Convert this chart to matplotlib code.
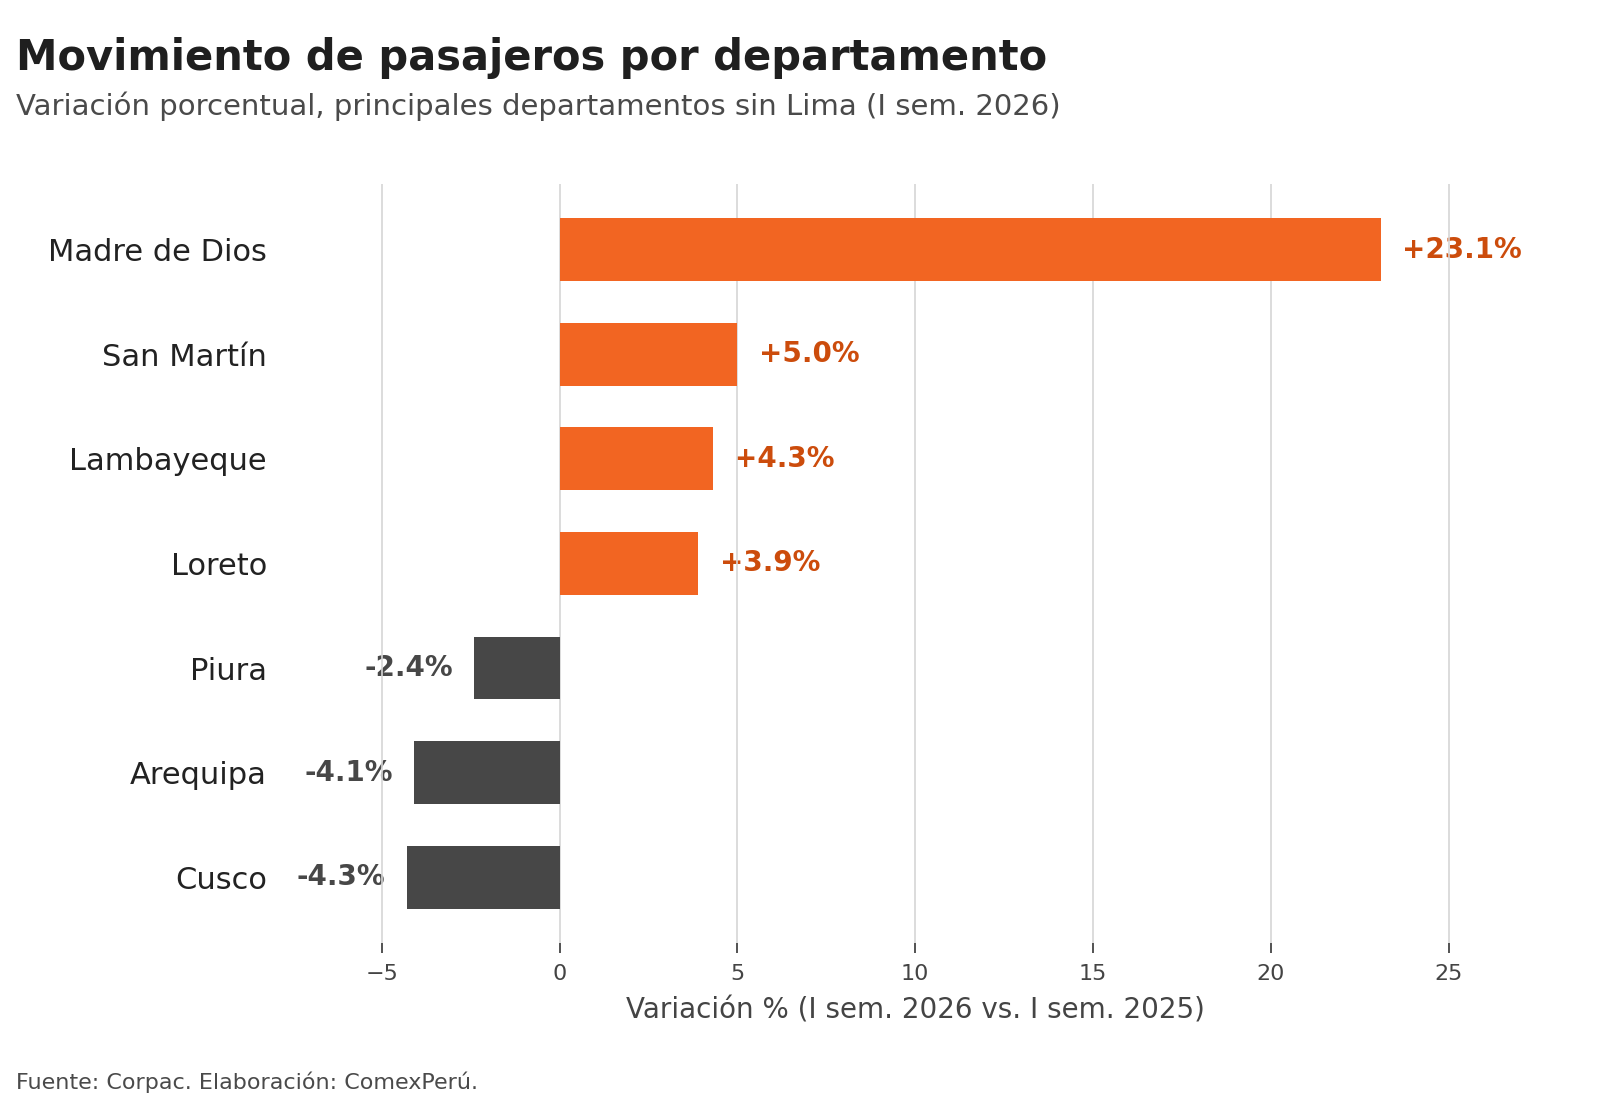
import matplotlib
matplotlib.use("Agg")
import matplotlib.pyplot as plt

departamentos = ["Madre de Dios", "San Martín", "Lambayeque", "Loreto", "Piura", "Arequipa", "Cusco"]
variacion = [23.1, 5.0, 4.3, 3.9, -2.4, -4.1, -4.3]

naranja = "#F26522"
naranja_txt = "#CC4C0C"
gris = "#474747"

plt.rcParams["font.family"] = ["DejaVu Sans"]

fig = plt.figure(figsize=(16, 11), dpi=100)
ax = fig.add_axes([0.172, 0.1425, 0.800, 0.6905])

colores = [naranja if v >= 0 else gris for v in variacion]
pos = list(range(len(departamentos)))
ax.barh(pos, variacion, height=0.6, color=colores, zorder=3)
ax.invert_yaxis()

# etiquetas de valor (quedan bajo la rejilla, como en el original)
for y, v in zip(pos, variacion):
    if v >= 0:
        ax.text(v + 0.6, y, f"+{v:.1f}%", va="center", ha="left",
                fontsize=20, fontweight="bold", color=naranja_txt, zorder=0.4)
    else:
        ax.text(v - 0.6, y, f"{v:.1f}%", va="center", ha="right",
                fontsize=20, fontweight="bold", color=gris, zorder=0.4)

ax.set_xlim(-8, 28)
ax.set_xticks([-5, 0, 5, 10, 15, 20, 25])
ax.set_yticks(pos)
ax.set_yticklabels(departamentos, fontsize=22, color="#222222")
ax.tick_params(axis="y", length=0, pad=6)
ax.tick_params(axis="x", length=7, width=1.3, color="#444444", labelsize=16,
               labelcolor="#444444", pad=8)
ax.grid(axis="x", color="#d6d6d6", linewidth=1.2)
ax.set_axisbelow(True)
for s in ax.spines.values():
    s.set_visible(False)

ax.set_xlabel("Variación % (I sem. 2026 vs. I sem. 2025)", fontsize=20,
              color="#444444", labelpad=9)

fig.text(0.01, 0.947, "Movimiento de pasajeros por departamento", fontsize=30,
         fontweight="bold", color="#1f1f1f", va="center", ha="left")
fig.text(0.01, 0.903, "Variación porcentual, principales departamentos sin Lima (I sem. 2026)",
         fontsize=21, color="#4a4a4a", va="center", ha="left")
fig.text(0.01, 0.016, "Fuente: Corpac. Elaboración: ComexPerú.", fontsize=16,
         color="#4a4a4a", va="center", ha="left")

fig.savefig("out.png", dpi=100, facecolor="white")
